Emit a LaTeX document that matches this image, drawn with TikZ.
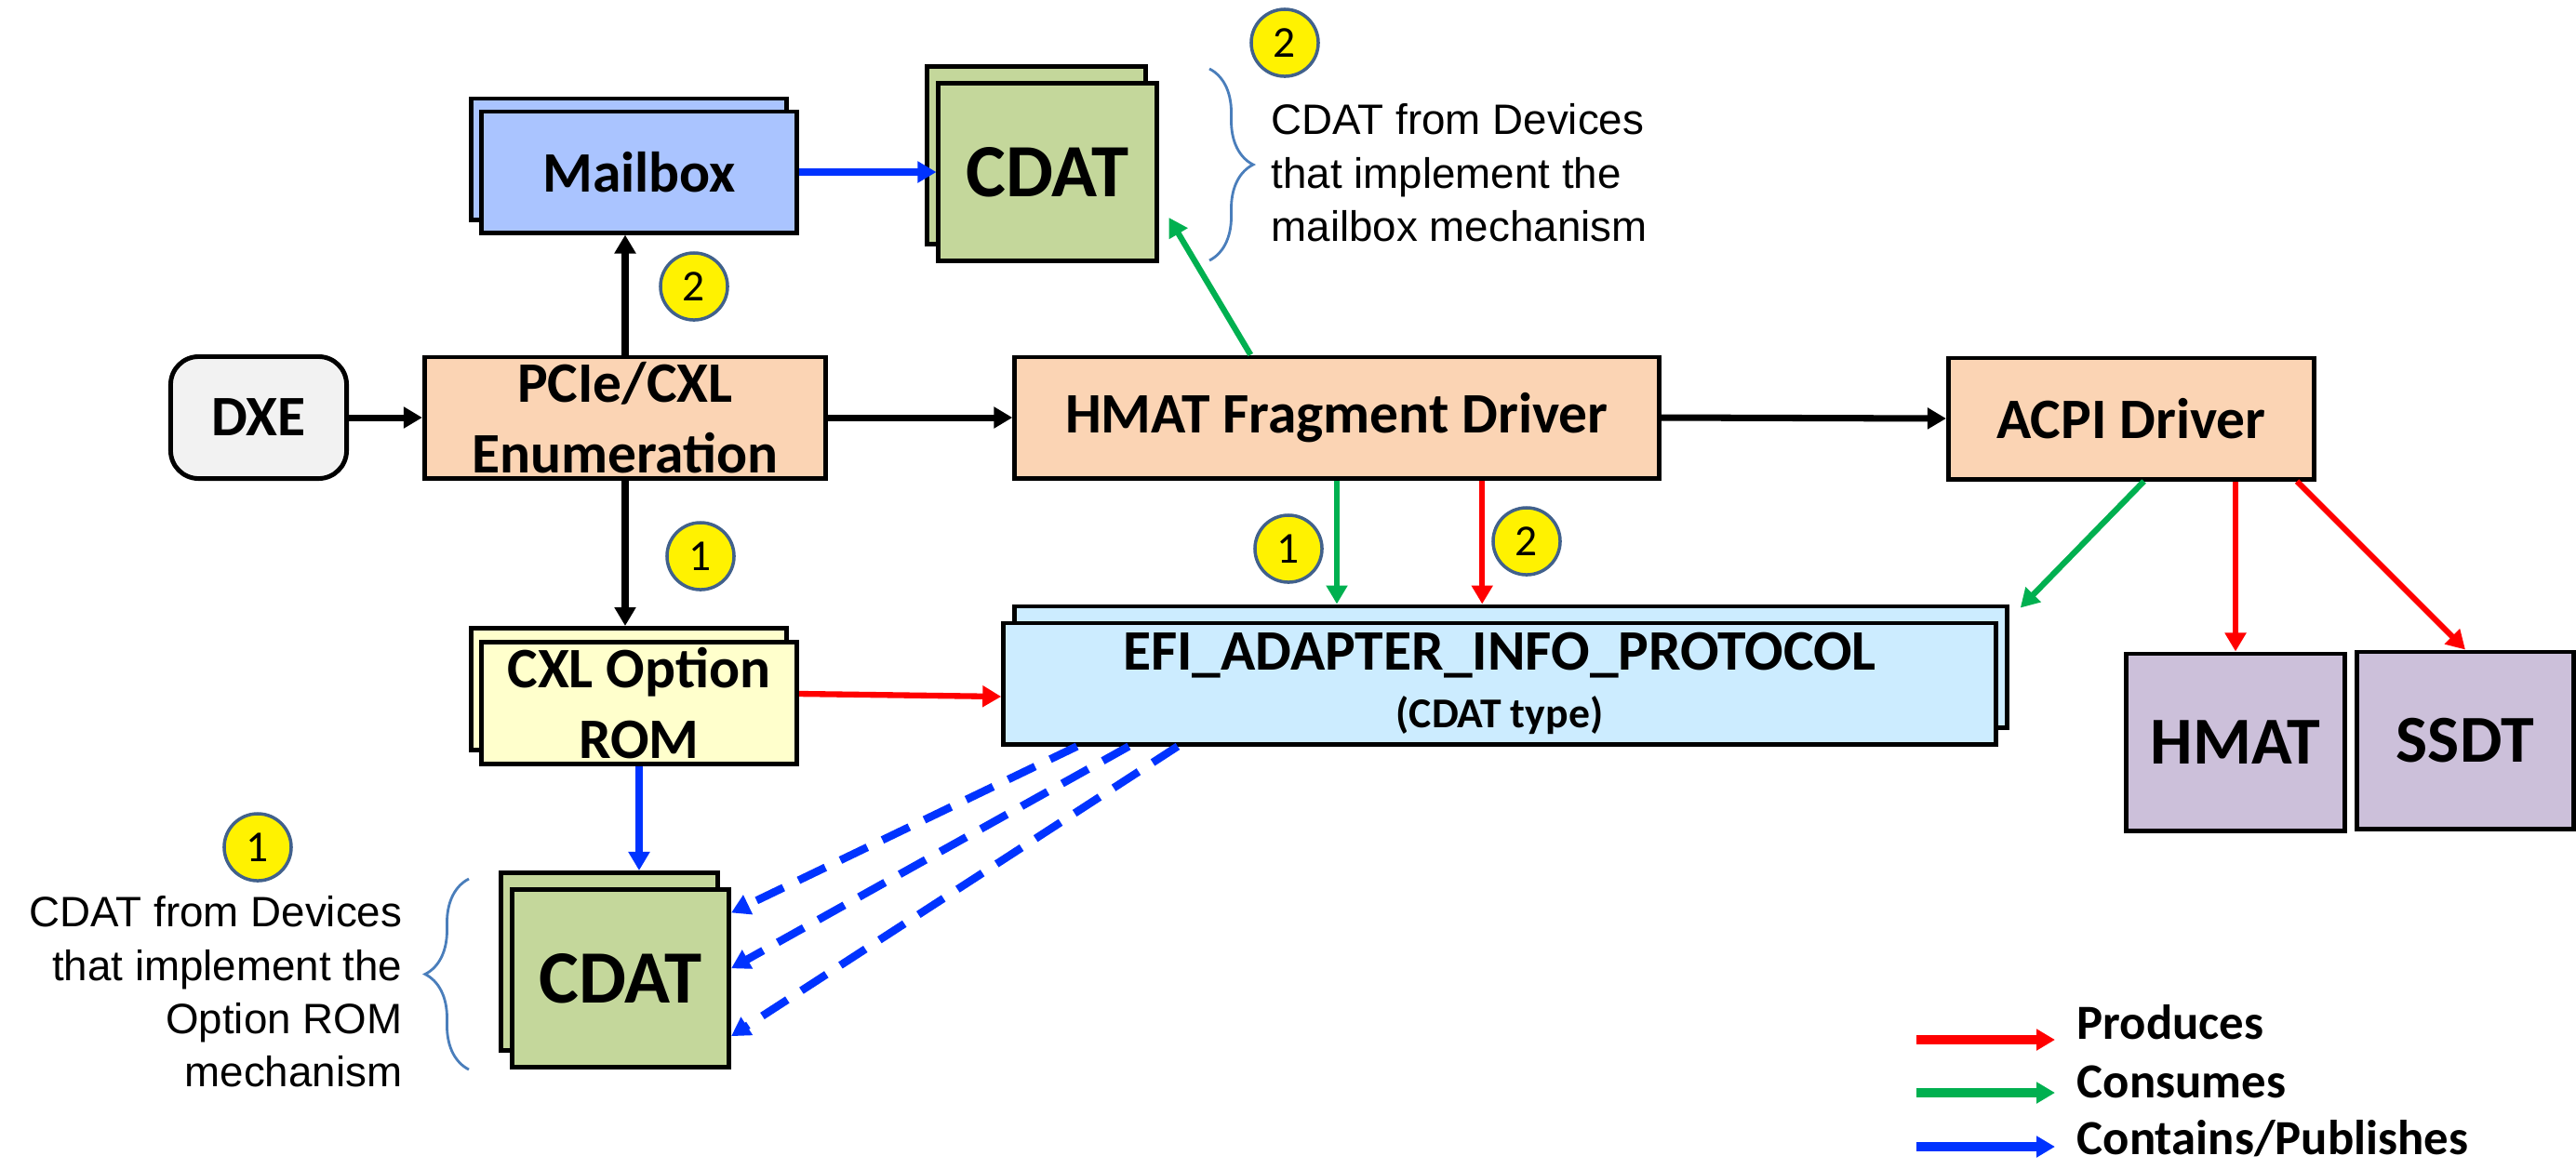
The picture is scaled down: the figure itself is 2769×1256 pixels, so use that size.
\documentclass[tikz,border=0pt]{standalone}
\usepackage{fontspec}
\setmainfont{Carlito}
\newfontfamily\notefont{Liberation Sans}
\usetikzlibrary{arrows.meta,calc,decorations.pathreplacing}

\definecolor{peach}{HTML}{FBD4B4}
\definecolor{mailblue}{HTML}{AAC4FF}
\definecolor{cdatgreen}{HTML}{C4D79B}
\definecolor{romyellow}{HTML}{FFFFCC}
\definecolor{efiblue}{HTML}{CCECFF}
\definecolor{acpililac}{HTML}{CCC0DA}
\definecolor{dxegray}{HTML}{F2F2F2}
\definecolor{prodred}{HTML}{FF0000}
\definecolor{consgreen}{HTML}{00B050}
\definecolor{pubblue}{HTML}{0033FF}
\definecolor{bracecol}{HTML}{4A7EBB}
\definecolor{badgeline}{HTML}{41618C}

\begin{document}
\begin{tikzpicture}[x=0.01cm, y=-0.01cm,
        box/.style={draw, line width=1.4pt, inner sep=0pt, align=center, font=\bfseries\fontsize{17.5}{21.5}\selectfont},
        driver/.style={box, fill=peach, minimum height=1.3cm},
        cdatpage/.style={box, fill=cdatgreen, minimum width=2.34cm, minimum height=1.91cm, font=\bfseries\fontsize{23}{28}\selectfont},
        acpitab/.style={box, fill=acpililac, minimum width=2.33cm, minimum height=1.9cm, font=\bfseries\fontsize{20.5}{25}\selectfont},
        badge/.style={circle, fill=yellow, draw=badgeline, line width=1pt, minimum size=0.72cm, inner sep=0pt, font=\fontsize{13.5}{16}\selectfont},
        note/.style={inner sep=0pt, font=\notefont\fontsize{13}{16.3}\selectfont},
        legend/.style={inner sep=0pt, anchor=base west, font=\bfseries\fontsize{15}{18}\selectfont},
        arr/.style={-{Triangle[length=0.2cm,width=0.22cm]}, line width=2pt},
        prod/.style={arr, color=prodred, line width=1.8pt},
        cons/.style={arr, color=consgreen, line width=1.8pt},
        pub/.style={arr, color=pubblue, line width=2pt},
        brc/.style={bracecol, line width=0.8pt, decorate, decoration={brace, amplitude=0.47cm}}]

        \useasboundingbox (0,0) rectangle (2769,1256);

        %===========================
        % Drivers
        %===========================

        \node (dxe) at (278,449) [box, fill=dxegray, rounded corners=0.3cm, minimum width=1.89cm, minimum height=1.31cm] {DXE};
        \node (pcie) at (672,449) [driver, minimum width=4.31cm] {PCIe/CXL\\Enumeration};
        \node (hmatdrv) at (1437,449) [driver, minimum width=6.92cm] {HMAT Fragment Driver};
        \node (acpi) at (2291,450) [driver, minimum width=3.93cm] {ACPI Driver};

        \draw[arr] (dxe.east) -- (pcie.west);
        \draw[arr] (pcie.east) -- (hmatdrv.west);
        \draw[arr] (hmatdrv.east) -- (acpi.west);

        %===========================
        % Mailbox path (2)
        %===========================

        \node (mailboxBack) at (676,171) [box, fill=mailblue, minimum width=3.39cm, minimum height=1.3cm] {};
        \node (mailbox) at (687,185) [box, fill=mailblue, minimum width=3.39cm, minimum height=1.3cm] {Mailbox};

        \node (cdatTopBack) at (1114,167) [cdatpage] {};
        \node (cdatTop) at (1126,185) [cdatpage] {CDAT};

        \draw[arr] (pcie.north) -- (pcie.north |- mailbox.south);
        \draw[pub, line width=2.5pt] (mailbox.east) -- (cdatTop.west);
        \draw[cons] ($(hmatdrv.north west)!0.367!(hmatdrv.north east)$) -- ($(cdatTop.north east)!0.75!(cdatTop.south east)+(11,0)$);

        \node (nb2a) at (746,308) [badge] {2};
        \node (nb2b) at (1381,46) [badge] {2};

        \draw[brc] (1300,74) -- (1300,280);
        \node (noteTop) at (1366,111) [note, anchor=north west, align=left] {CDAT from Devices\\that implement the\\mailbox mechanism};

        %===========================
        % Option ROM path (1)
        %===========================

        \node (romBack) at (676,741) [box, fill=romyellow, minimum width=3.39cm, minimum height=1.31cm] {};
        \node (rom) at (687,756) [box, fill=romyellow, minimum width=3.39cm, minimum height=1.31cm] {CXL Option\\ROM};

        \node (cdatBotBack) at (655,1034) [cdatpage, minimum width=2.33cm] {};
        \node (cdatBot) at (667,1052) [cdatpage, minimum width=2.33cm] {CDAT};

        \draw[arr] (pcie.south) -- (pcie.south |- romBack.north);
        \draw[pub] (rom.south) -- (rom.south |- cdatBotBack.north);

        \node (nb1a) at (753,598) [badge] {1};
        \node (nb1b) at (277,911) [badge] {1};

        \draw[brc] (504,1150) -- (504,945);
        \node (noteBot) at (433,963) [note, anchor=north east, align=right] {CDAT from Devices\\that implement the\\Option ROM\\mechanism};

        %===========================
        % Protocol
        %===========================

        \node (efiBack) at (1624,717) [box, fill=efiblue, minimum width=10.66cm, minimum height=1.3cm] {};
        \node (efi) at (1612,735) [box, fill=efiblue, minimum width=10.66cm, minimum height=1.3cm] {EFI\_ADAPTER\_INFO\_PROTOCOL\\[-4pt]\fontsize{13}{15}\selectfont (CDAT type)};

        \draw[prod] ($(rom.east)+(0,-10)$) -- ($(efi.west)+(0,14)$);

        \draw[cons] (hmatdrv.south) -- (hmatdrv.south |- efiBack.north);
        \coordinate (hmProd) at ($(hmatdrv.south west)!0.724!(hmatdrv.south east)$);
        \draw[prod] (hmProd) -- (hmProd |- efiBack.north);

        \node (nb1c) at (1385,590) [badge] {1};
        \node (nb2c) at (1641,582) [badge] {2};

        \draw[pub, line width=2.4pt, dash pattern=on 0.32cm off 0.18cm] ($(efi.south west)!0.076!(efi.south east)$) -- ($(cdatBot.north east)!0.14!(cdatBot.south east)$);
        \draw[pub, line width=2.4pt, dash pattern=on 0.32cm off 0.18cm] ($(efi.south west)!0.128!(efi.south east)$) -- ($(cdatBot.north east)!0.445!(cdatBot.south east)$);
        \draw[pub, line width=2.4pt, dash pattern=on 0.32cm off 0.18cm] ($(efi.south west)!0.177!(efi.south east)$) -- ($(cdatBot.north east)!0.817!(cdatBot.south east)$);

        %===========================
        % ACPI tables
        %===========================

        \node (hmat) at (2403,798) [acpitab, minimum width=2.34cm] {HMAT};
        \node (ssdt) at (2650,796) [acpitab, minimum width=2.32cm] {SSDT};

        \draw[cons] ($(acpi.south west)!0.534!(acpi.south east)$) -- ($(efiBack.north east)+(12,4)$);
        \draw[prod] (hmat.north |- acpi.south) -- (hmat.north);
        \draw[prod] ($(acpi.south west)!0.947!(acpi.south east)$) -- (ssdt.north);

        %===========================
        % Legend
        %===========================

        \node (lbProd) at (2232,1117) [legend] {Produces};
        \node (lbCons) at (2232,1180) [legend] {Consumes};
        \node (lbPub) at (2232,1241) [legend] {Contains/Publishes};
        \coordinate (lgProd) at (2060,1118);
        \coordinate (lgCons) at (2060,1175);
        \coordinate (lgPub) at (2060,1233);
        \draw[prod, line width=2.6pt, shorten >=0.23cm] (lgProd) -- (lgProd -| lbProd.west);
        \draw[cons, line width=2.6pt, shorten >=0.23cm] (lgCons) -- (lgCons -| lbCons.west);
        \draw[pub, line width=2.6pt, shorten >=0.23cm] (lgPub) -- (lgPub -| lbPub.west);
\end{tikzpicture}
\end{document}
